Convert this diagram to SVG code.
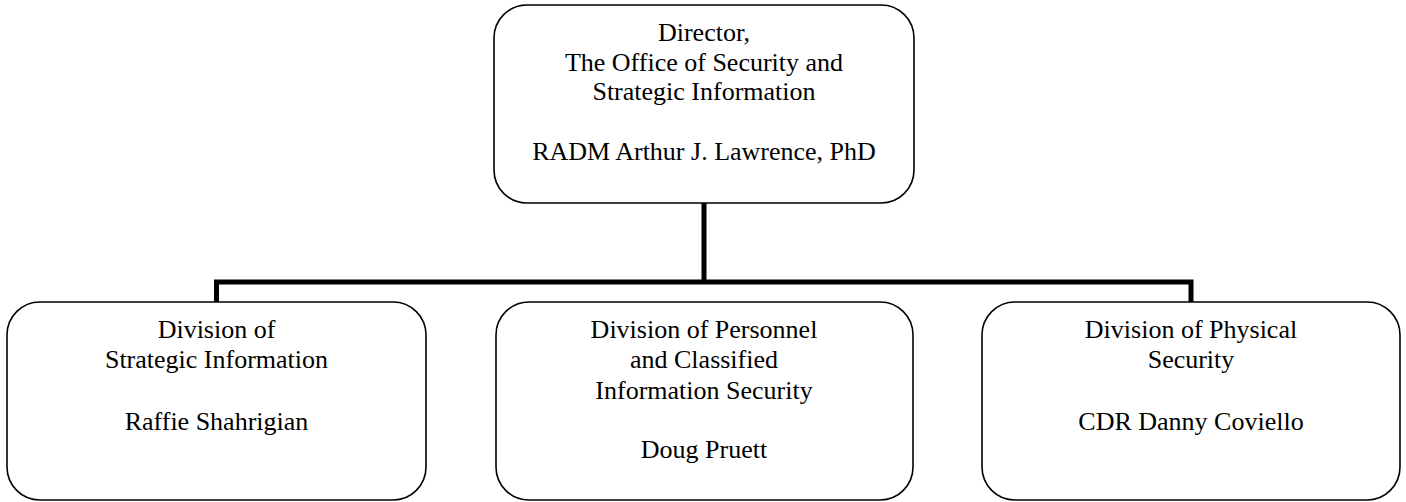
<svg xmlns="http://www.w3.org/2000/svg" width="1406" height="502" viewBox="0 0 1406 502">
<style>
.box{fill:#fff;stroke:#000;stroke-width:1.6}
.conn{fill:none;stroke:#000;stroke-width:5;stroke-linejoin:miter}
text{font-family:"Liberation Serif","Times New Roman",serif;font-size:26px;fill:#000;text-anchor:middle}
</style>
<rect width="1406" height="502" fill="#fff"/>
<g id="connectors">
<path class="conn" d="M704 203 V282 M216.5 302 V282 H1191 V302"/>
</g>
<g id="director">
<rect class="box" x="494" y="5" width="420" height="198" rx="33" ry="33"/>
<text x="704" y="41">Director,</text>
<text x="704" y="71">The Office of Security and</text>
<text x="704" y="100">Strategic Information</text>
<text x="704" y="160">RADM Arthur J. Lawrence, PhD</text>
</g>
<g id="strategic">
<rect class="box" x="7" y="302" width="419" height="198" rx="33" ry="33"/>
<text x="216.5" y="338">Division of</text>
<text x="216.5" y="368">Strategic Information</text>
<text x="216.5" y="430">Raffie Shahrigian</text>
</g>
<g id="personnel">
<rect class="box" x="496" y="302" width="417" height="198" rx="33" ry="33"/>
<text x="704" y="338">Division of Personnel</text>
<text x="704" y="368">and Classified</text>
<text x="704" y="399">Information Security</text>
<text x="704" y="458">Doug Pruett</text>
</g>
<g id="physical">
<rect class="box" x="982" y="302" width="418" height="198" rx="33" ry="33"/>
<text x="1191" y="338">Division of Physical</text>
<text x="1191" y="368">Security</text>
<text x="1191" y="430">CDR Danny Coviello</text>
</g>
</svg>
